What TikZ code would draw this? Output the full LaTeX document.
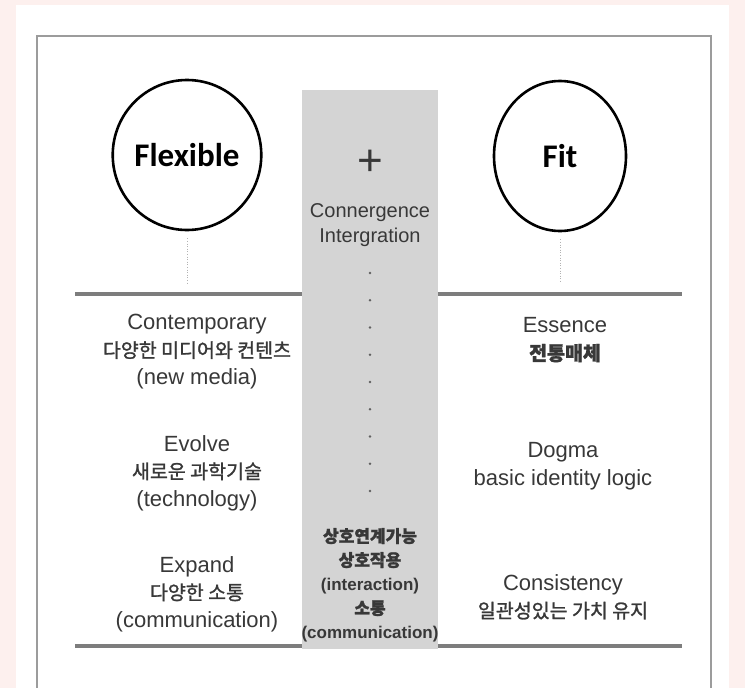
\documentclass[tikz,border=0pt]{standalone}
\usepackage{
	fontspec,			% Fonts
	xcolor
}
\usetikzlibrary{shapes.geometric}
\setmainfont{Liberation Sans}
\newfontfamily\kr[FakeBold=1.3]{Noto Sans CJK KR}
\newfontfamily\carl{Carlito}

\definecolor{pinkbg}{HTML}{FDF0EE}
\definecolor{txt}{HTML}{383838}
\definecolor{column}{HTML}{D4D4D4}
\definecolor{rulegray}{HTML}{7D7D7D}
\definecolor{framegray}{HTML}{9C9C9C}

\newcommand{\krline}[1]{{\kr\fontsize{19.5}{27.5}\selectfont #1}}
\newcommand{\krbold}[1]{{\kr\bfseries\fontsize{17}{24}\selectfont #1}}

\tikzset{
	bubble/.style={draw, ellipse, line width=2.6pt, minimum width=132, minimum height=150, inner sep=0pt, font=\carl\bfseries\fontsize{33}{33}\selectfont},
	words/.style={text=txt, align=center, font=\fontsize{22}{27.5}\selectfont},
	midwords/.style={text=txt, align=center, font=\bfseries\fontsize{17}{24}\selectfont},
	divider/.style={draw=rulegray, line width=3.2pt}
}

\begin{document}
\begin{tikzpicture}[x=1pt, y=-1pt]
		\useasboundingbox (0,0) rectangle (745,688);
		\fill[pinkbg] (0,0) rectangle (745,688);
		\fill[white] (16,5) rectangle (729,688);
		\draw[framegray, line width=1.4pt] (37,688) -- (37,36) -- (711,36) -- (711,688); % Frame.

		\fill[column] (302,90) rectangle (438,649); % Middle column.

		\node[bubble] (flex) at (187,155) {Flexible};
		\node[bubble] (fit) at (560,156) {Fit};

		\coordinate (flexend) at (187,283);
		\coordinate (fitend) at (560,283);
		\draw[gray!60, dotted, line width=0.6pt] ([yshift=-7pt]flex.south) -- (flexend);
		\draw[gray!60, dotted, line width=0.6pt] ([yshift=-7pt]fit.south) -- (fitend);

		\coordinate (tl) at (75,294);
		\coordinate (tm) at (302,294);
		\coordinate (tn) at (438,294);
		\coordinate (tr) at (682,294);
		\coordinate (bl) at (75,646);
		\coordinate (bm) at (302,646);
		\coordinate (bn) at (438,646);
		\coordinate (br) at (682,646);
		\draw[divider] (tl) -- (tm) (tn) -- (tr); % Top rule.
		\draw[divider] (bl) -- (bm) (bn) -- (br); % Bottom rule.

		\node[text=txt, font=\fontsize{44}{44}\selectfont] (plus) at (370,163) {+};
		\node[words, font=\fontsize{20}{25}\selectfont] (conv) at (370,225) {Connergence\\Intergration};
		\foreach \i in {0,...,8}
			\fill[txt!80] (370,273+27.25*\i) circle (1.3);
		\node[midwords] (inter) at (370,585) {\krbold{상호연계가능}\\\krbold{상호작용}\\(interaction)\\\krbold{소통}\\(communication)};

		\node[words] (cont) at (197,352) {Contemporary\\\krline{다양한 미디어와 컨텐츠}\\(new media)};
		\node[words] (evol) at (197,473) {Evolve\\\krline{새로운 과학기술}\\(technology)};
		\node[words] (expa) at (197,594) {Expand\\\krline{다양한 소통}\\(communication)};

		\node[words] (esse) at (565,340) {Essence\\{\kr\bfseries\fontsize{19.5}{27.5}\selectfont 전통매체}};
		\node[words] (dogm) at (563,466) {Dogma\\basic identity logic};
		\node[words] (cons) at (563,597) {Consistency\\\krline{일관성있는 가치 유지}};
	\end{tikzpicture}
\end{document}
